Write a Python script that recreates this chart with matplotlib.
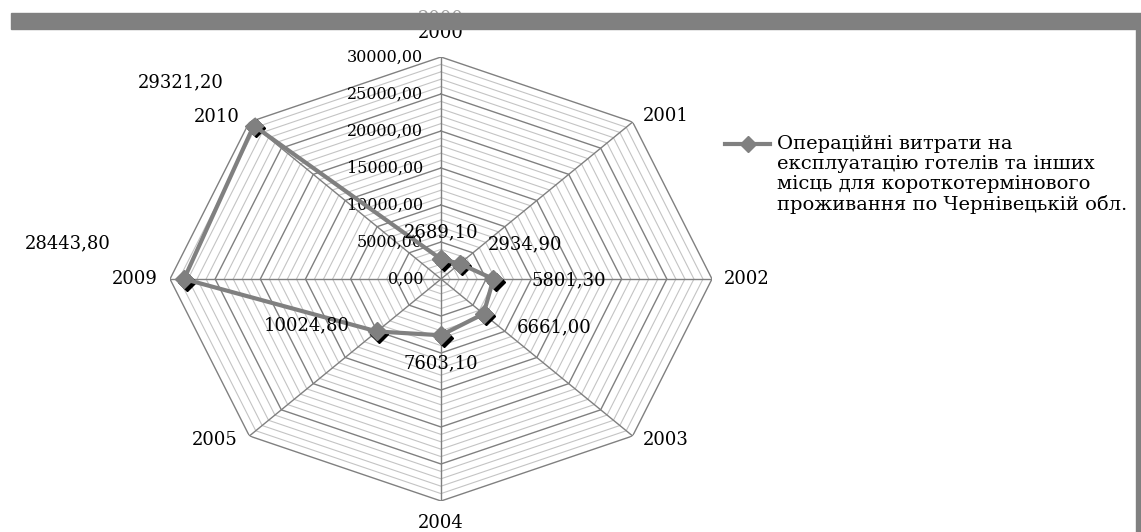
import numpy as np
import matplotlib
matplotlib.use('Agg')
import matplotlib.pyplot as plt
import matplotlib.transforms as mtransforms
from matplotlib.lines import Line2D
from matplotlib.patches import Rectangle

plt.rcParams['font.family'] = ['DejaVu Serif']

# data
years = ['2000', '2001', '2002', '2003', '2004', '2005', '2009', '2010']
costs = [2689.10, 2934.90, 5801.30, 6661.00, 7603.10, 10024.80, 28443.80, 29321.20]
series_name = ('Операційні витрати на\nексплуатацію готелів та інших\n'
               'місць для короткотермінового\nпроживання по Чернівецькій обл.')
r_max = 30000
major_step = 5000
minor_step = 1000

# label placement (pixel offsets)
value_offsets = [(0, 27), (65, 19), (75, -1), (71, -14), (0, -28), (-70, 6), (-116, 36), (-73, 43)]
year_offsets = [(0, 24, 'center'), (10, 6, 'left'), (12, 0, 'left'), (10, -4, 'left'),
                (0, -22, 'center'), (-12, -4, 'right'), (-12, 0, 'right'), (-10, 5, 'right')]

W, H = 1141, 532
fig = plt.figure(figsize=(W / 100, H / 100), dpi=100)
ax = fig.add_axes([170 / W, (H - 501) / H, 542 / W, 444 / H], projection='polar')
ax.set_aspect('auto')
ax.set_theta_offset(np.pi / 2)
ax.set_theta_direction(-1)
ax.set_ylim(0, r_max)
ax.grid(False)
ax.spines['polar'].set_visible(False)
ax.set_xticks([])
ax.set_yticks([])
ax.patch.set_alpha(0)

n = len(years)
angles = np.arange(n) * 2 * np.pi / n
ring = np.append(angles, angles[0])

# polygon grid
for lvl in np.arange(minor_step, r_max + 1, minor_step):
    if lvl % major_step == 0:
        ax.plot(ring, [lvl] * len(ring), color='#808080', lw=1.0, zorder=2)
    else:
        ax.plot(ring, [lvl] * len(ring), color='#c4c4c4', lw=0.8, zorder=1)
for a in angles:
    ax.plot([a, a], [0, r_max], color='#808080', lw=1.0, zorder=2)

# radial tick labels
for lvl in np.arange(0, r_max + 1, major_step):
    ax.annotate(f'{lvl:.2f}'.replace('.', ','), (0, lvl), xytext=(-18, 0),
                textcoords='offset pixels', ha='right', va='center', fontsize=11.5)

# category labels
for a, yr, (dx, dy, ha) in zip(angles, years, year_offsets):
    ax.annotate(yr, (a, r_max), xytext=(dx, dy), textcoords='offset pixels',
                ha=ha, va='center', fontsize=13)

# series
vals = np.append(costs, costs[0])
shadow = ax.transData + mtransforms.ScaledTranslation(2.5 / 100, -2.5 / 100, fig.dpi_scale_trans)
ax.plot(angles, costs, ls='none', marker='D', ms=9, color='black', transform=shadow, zorder=3)
ax.plot(ring, vals, color='#808080', lw=3, marker='D', ms=9, zorder=4)

for a, v, (dx, dy) in zip(angles, costs, value_offsets):
    ax.annotate(f'{v:.2f}'.replace('.', ','), (a, v), xytext=(dx, dy),
                textcoords='offset pixels', ha='center', va='center', fontsize=13, zorder=5)

# legend
fig.add_artist(Line2D([725 / W, 748 / W, 770 / W], [1 - 144 / H] * 3, color='#808080', lw=3,
                      marker='D', ms=8, markevery=[1], transform=fig.transFigure))
fig.text(777 / W, 1 - 135 / H, series_name, ha='left', va='top', fontsize=14,
         linespacing=1.13, transform=fig.transFigure)

# ghost title and frame bars
fig.text(441 / W, 1 - 10 / H, '2000', ha='center', va='top', fontsize=13, color='#a0a0a0')
fig.patches.append(Rectangle((11 / W, 1 - 29 / H), (W - 11) / W, 16 / H,
                             transform=fig.transFigure, color='#808080', zorder=10))
fig.patches.append(Rectangle((1136 / W, 0), 5 / W, 1 - 29 / H,
                             transform=fig.transFigure, color='#808080', zorder=10))

fig.savefig('out.png', dpi=100)
